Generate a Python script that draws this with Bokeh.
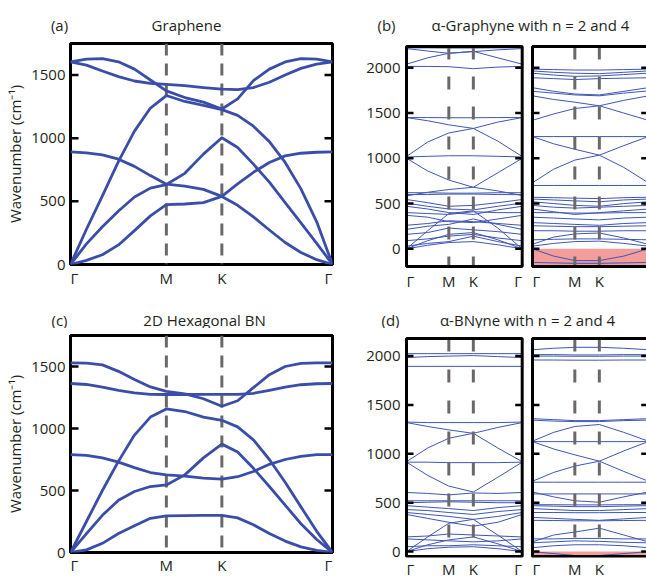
import math
from bokeh.plotting import figure
from bokeh.models import Range1d, FixedTicker, Label
from bokeh.layouts import row, column
from bokeh.embed import file_html
from bokeh.resources import INLINE

# ---------------- data ----------------
kpath = [0.0, 0.577, 0.911, 1.577]
kpath_labels = ["Γ", "M", "K", "Γ"]

k_dense = [0.0, 0.096, 0.192, 0.289, 0.385, 0.481, 0.577, 0.688, 0.800, 0.911,
           1.006, 1.101, 1.197, 1.292, 1.387, 1.482, 1.577]
k_sparse = [0.0, 0.289, 0.577, 0.911, 1.244, 1.577]

# (a) graphene, cm-1 on k_dense
graphene_za = [0, 33, 77, 155, 268, 385, 474, 479, 490, 539, 469, 377, 273, 174, 95, 38, 0]
graphene_ta = [0, 163, 299, 424, 534, 605, 633, 722, 874, 1004, 926, 795, 652, 490, 330, 168, 0]
graphene_zo = [892, 884, 868, 834, 777, 704, 636, 620, 595, 539, 638, 730, 808, 860, 881, 889, 892]
graphene_la = [0, 279, 544, 816, 1056, 1239, 1338, 1291, 1260, 1226, 1181, 1095, 973, 808, 599, 338, 0]
graphene_lo = [1605, 1626, 1631, 1605, 1547, 1461, 1375, 1322, 1286, 1231, 1312, 1456, 1547, 1604, 1631, 1626, 1605]
graphene_to = [1605, 1579, 1532, 1488, 1453, 1435, 1427, 1416, 1401, 1388, 1385, 1401, 1443, 1500, 1553, 1587, 1605]

# (c) hexagonal BN, cm-1 on k_dense
hbn_za = [0, 21, 74, 153, 216, 276, 295, 297, 299, 300, 279, 224, 153, 92, 45, 18, 0]
hbn_ta = [0, 153, 300, 421, 492, 532, 545, 626, 763, 874, 811, 679, 532, 382, 232, 105, 0]
hbn_zo = [789, 784, 763, 729, 684, 645, 626, 616, 600, 592, 611, 653, 711, 750, 776, 789, 789]
hbn_la = [0, 250, 500, 737, 947, 1092, 1158, 1137, 1092, 1066, 1013, 908, 750, 566, 368, 171, 0]
hbn_to = [1363, 1355, 1334, 1308, 1287, 1276, 1274, 1274, 1275, 1276, 1276, 1284, 1308, 1334, 1353, 1361, 1363]
hbn_lo = [1530, 1528, 1513, 1461, 1395, 1335, 1300, 1280, 1240, 1179, 1224, 1329, 1434, 1500, 1526, 1530, 1530]

# (b) alpha-graphyne n = 2 (left) and n = 4 (right), cm-1 on k_sparse
graphyne_n2 = [
    [2220, 2220, 2218, 2218, 2220, 2220],
    [2212, 2185, 2160, 2178, 2198, 2212],
    [2040, 2110, 2160, 2182, 2110, 2040],
    [2015, 2015, 2012, 1990, 2008, 2015],
    [1450, 1450, 1448, 1448, 1450, 1450],
    [1450, 1415, 1370, 1330, 1190, 1020],
    [1020, 1180, 1280, 1330, 1400, 1450],
    [1015, 1022, 1028, 1028, 1022, 1015],
    [1000, 860, 760, 680, 840, 1000],
    [585, 625, 655, 680, 640, 590],
    [620, 620, 615, 615, 620, 620],
    [600, 600, 605, 605, 600, 598],
    [545, 510, 470, 480, 510, 545],
    [505, 470, 440, 430, 470, 505],
    [470, 440, 400, 380, 430, 470],
    [400, 390, 380, 410, 400, 400],
    [370, 350, 300, 290, 330, 370],
    [260, 280, 310, 300, 280, 260],
    [215, 250, 270, 330, 270, 215],
    [160, 180, 230, 210, 190, 160],
    [90, 110, 140, 160, 120, 90],
    [30, 60, 80, 140, 80, 30],
    [0, 200, 390, 420, 230, 0],
    [0, 90, 160, 180, 100, 0],
    [0, 40, 70, 80, 45, 0],
]
graphyne_n4 = [
    [1985, 1980, 1975, 1975, 1980, 1985],
    [1965, 1950, 1940, 1935, 1950, 1965],
    [1940, 1920, 1905, 1910, 1925, 1940],
    [1890, 1880, 1870, 1880, 1885, 1890],
    [1780, 1740, 1710, 1700, 1740, 1780],
    [1740, 1720, 1700, 1690, 1720, 1745],
    [1690, 1650, 1620, 1580, 1640, 1690],
    [1420, 1490, 1550, 1580, 1500, 1420],
    [1240, 1240, 1240, 1240, 1240, 1240],
    [1240, 1160, 1100, 1035, 900, 730],
    [730, 880, 980, 1035, 1140, 1240],
    [700, 700, 700, 700, 700, 700],
    [570, 565, 560, 555, 565, 570],
    [550, 540, 530, 520, 540, 550],
    [520, 500, 480, 470, 500, 520],
    [480, 460, 450, 460, 470, 480],
    [440, 410, 380, 400, 420, 440],
    [400, 400, 395, 395, 400, 400],
    [350, 340, 330, 320, 340, 350],
    [290, 280, 270, 260, 280, 290],
    [255, 250, 245, 245, 250, 255],
    [200, 200, 195, 195, 200, 200],
    [50, 130, 165, 175, 120, 50],
    [100, 105, 110, 110, 105, 100],
    [30, 60, 80, 85, 60, 30],
    [0, -80, -130, -130, -80, 0],
    [-150, -155, -160, -160, -155, -150],
]

# (d) alpha-BNyne n = 2 (left) and n = 4 (right), cm-1 on k_sparse
bnyne_n2 = [
    [2025, 2025, 2025, 2025, 2025, 2025],
    [1985, 1995, 2000, 2005, 1995, 1985],
    [1895, 1895, 1895, 1895, 1895, 1895],
    [1325, 1320, 1320, 1320, 1320, 1325],
    [1320, 1280, 1245, 1210, 1060, 920],
    [920, 1060, 1160, 1210, 1270, 1320],
    [915, 915, 910, 910, 910, 915],
    [915, 780, 670, 610, 760, 915],
    [605, 595, 580, 600, 595, 605],
    [520, 520, 520, 520, 520, 520],
    [500, 505, 510, 505, 500, 500],
    [470, 455, 440, 420, 450, 470],
    [430, 420, 400, 380, 410, 430],
    [400, 380, 360, 330, 360, 400],
    [380, 340, 300, 260, 300, 380],
    [150, 160, 180, 170, 160, 150],
    [130, 120, 110, 100, 110, 130],
    [0, 150, 290, 330, 170, 0],
    [0, 70, 120, 150, 80, 0],
    [50, 60, 60, 70, 60, 50],
    [0, 30, 45, 50, 30, 0],
]
bnyne_n4 = [
    [2065, 2080, 2090, 2090, 2080, 2065],
    [2015, 2015, 2012, 2012, 2015, 2015],
    [2000, 2000, 1998, 1998, 2000, 2000],
    [1960, 1960, 1958, 1958, 1960, 1960],
    [1360, 1350, 1340, 1340, 1350, 1360],
    [1345, 1335, 1330, 1330, 1340, 1345],
    [1130, 1220, 1280, 1300, 1220, 1130],
    [1125, 1125, 1125, 1125, 1125, 1125],
    [1125, 1050, 990, 925, 820, 720],
    [720, 810, 875, 925, 1030, 1125],
    [710, 710, 710, 710, 710, 710],
    [610, 560, 520, 505, 560, 610],
    [590, 590, 590, 590, 590, 590],
    [480, 480, 478, 478, 480, 480],
    [470, 465, 460, 460, 465, 470],
    [440, 430, 420, 420, 430, 440],
    [400, 400, 398, 398, 400, 400],
    [350, 340, 330, 320, 335, 350],
    [320, 318, 315, 315, 318, 320],
    [100, 170, 200, 240, 170, 100],
    [130, 130, 135, 135, 130, 130],
    [90, 100, 110, 105, 95, 90],
    [40, 60, 70, 70, 60, 40],
    [0, -20, -40, -40, -20, 0],
    [-45, -45, -45, -45, -45, -45],
]

yticks_single = [0, 500, 1000, 1500]
yticks_pair = [0, 500, 1000, 1500, 2000]
ylim_single = (0, 1750)
ylim_graphyne = (-195, 2235)
ylim_bnyne = (-50, 2180)

panel_letters = ["(a)", "(b)", "(c)", "(d)"]
panel_titles = ["Graphene", "α-Graphyne with n = 2 and 4",
                "2D Hexagonal BN", "α-BNyne with n = 2 and 4"]

# ---------------- style ----------------
FONT = "Open Sans"
FS = "15px"
TXT = "#231f20"
BLUE = "#3a4ea9"
THIN = "#3f56b6"
GREY = "#6d6868"
PINK = "#f29c9c"
L = kpath[-1]
W = 646


def make_panel(canvas, box, frame, xlim, ylim):
    cx, cy, cw, ch = canvas
    bl, bt, bw, bh = box
    fl, ft, fw, fh = frame
    sx = (xlim[1] - xlim[0]) / bw
    sy = (ylim[1] - ylim[0]) / bh
    x0 = xlim[0] - (bl - fl) * sx
    y1 = ylim[1] + (bt - ft) * sy
    p = figure(frame_width=fw, frame_height=fh, min_border=0,
               min_border_left=fl - cx, min_border_top=ft - cy,
               min_border_right=cx + cw - fl - fw,
               min_border_bottom=cy + ch - ft - fh,
               x_range=Range1d(x0, x0 + fw * sx), y_range=Range1d(y1 - fh * sy, y1),
               output_backend="svg", toolbar_location=None, tools="")
    p.grid.visible = False
    p.background_fill_color = "white"
    p.border_fill_color = "white"
    return p, sx


def style_yaxis(p, ticks, label=None):
    ax = p.yaxis[0]
    ax.ticker = FixedTicker(ticks=ticks)
    ax.axis_line_color = None
    ax.major_tick_line_color = None
    ax.minor_tick_line_color = None
    ax.major_tick_in = 0
    ax.major_tick_out = 0
    ax.major_label_text_font = FONT
    ax.major_label_text_font_size = FS
    ax.major_label_text_color = TXT
    if label:
        ax.axis_label = label
        ax.axis_label_text_font = FONT
        ax.axis_label_text_font_size = FS
        ax.axis_label_text_font_style = "normal"
        ax.axis_label_text_color = TXT
        ax.axis_label_standoff = 3
        ax.major_label_standoff = 5
    else:
        ax.major_label_standoff = 3


def style_xaxis(p, ticks, labels, standoff):
    ax = p.xaxis[0]
    ax.ticker = FixedTicker(ticks=ticks)
    overrides = {}
    for t, lab in zip(ticks, labels):
        overrides[t] = lab
        overrides[repr(t)] = lab
    ax.major_label_overrides = overrides
    ax.axis_line_color = None
    ax.major_tick_line_color = None
    ax.minor_tick_line_color = None
    ax.major_tick_in = 0
    ax.major_tick_out = 0
    ax.major_label_standoff = standoff
    ax.major_label_text_font = FONT
    ax.major_label_text_font_size = FS
    ax.major_label_text_color = TXT


def single_panel(canvas, box, bands, label_standoff):
    p, sx = make_panel(canvas, box, box, (0, L), ylim_single)
    p.outline_line_color = "black"
    p.outline_line_width = 3
    style_yaxis(p, yticks_single, "Wavenumber (cm⁻¹)")
    shift = 4 * sx
    ticks = [kpath[0] + shift, kpath[1], kpath[2], kpath[3] - shift]
    style_xaxis(p, ticks, kpath_labels, label_standoff)
    p.segment(x0=kpath[1:3], y0=[ylim_single[1]] * 2, x1=kpath[1:3], y1=[ylim_single[0]] * 2,
              line_color=GREY, line_width=3, line_dash="12 8")
    p.multi_line(xs=[k_dense] * len(bands), ys=bands, line_color=BLUE, line_width=2.8,
                 line_join="round")
    tk = yticks_single[1:]
    p.ray(x=[0] * len(tk), y=tk, length=8, length_units="screen", angle=0,
          line_color="black", line_width=2.5)
    p.ray(x=[L] * len(tk), y=tk, length=8, length_units="screen", angle=math.pi,
          line_color="black", line_width=2.5)
    return p


def pair_panel(canvas, box, frame, ylim, left_bands, right_bands, dash, pink_top,
               label_standoff):
    p, sx = make_panel(canvas, box, frame, (0, L), ylim)
    p.outline_line_color = None
    style_yaxis(p, yticks_pair)
    off = L + 10.3 * sx
    shift = 4 * sx
    ticks = [kpath[0] + shift, kpath[1], kpath[2], kpath[3] - shift,
             off + kpath[0] + shift, off + kpath[1], off + kpath[2]]
    style_xaxis(p, ticks, kpath_labels + kpath_labels[:3], label_standoff)
    # imaginary-mode region of the right panel
    p.quad(left=[off], right=[off + L], bottom=[ylim[0]], top=[pink_top],
           fill_color=PINK, line_color=None)
    p.multi_line(xs=[k_sparse] * len(left_bands), ys=left_bands,
                 line_color=THIN, line_width=1)
    p.multi_line(xs=[[k + off for k in k_sparse]] * len(right_bands), ys=right_bands,
                 line_color=THIN, line_width=1)
    dx_lines = [kpath[1], kpath[2], off + kpath[1], off + kpath[2]]
    p.segment(x0=dx_lines, y0=[ylim[1]] * 4, x1=dx_lines, y1=[ylim[0]] * 4,
              line_color=GREY, line_width=3, line_dash=dash)
    n = len(yticks_pair)
    for xb, ang in [(0, 0), (L, math.pi), (off, 0), (off + L, math.pi)]:
        p.ray(x=[xb] * n, y=yticks_pair, length=7, length_units="screen", angle=ang,
              line_color="black", line_width=2.5)
    p.quad(left=[0, off], right=[L, off + L], bottom=[ylim[0]] * 2, top=[ylim[1]] * 2,
           fill_color=None, line_color="black", line_width=3)
    return p


def header(y0, h, items):
    p = figure(width=W, height=h, min_border=0, x_range=Range1d(0, W),
               y_range=Range1d(y0 + h, y0), x_axis_location=None, y_axis_location=None,
               output_backend="svg", toolbar_location=None, tools="")
    p.grid.visible = False
    p.outline_line_color = None
    for px, py, text in items:
        p.add_layout(Label(x=px, y=py, text=text, text_font=FONT, text_font_size=FS,
                           text_color=TXT, text_align="center", text_baseline="middle"))
    return p


head1 = header(0, 35, [(59, 24, panel_letters[0]), (186, 24, panel_titles[0]),
                       (386, 24, panel_letters[1]), (530, 24, panel_titles[1])])
head2 = header(288, 38, [(59, 317, panel_letters[2]), (204, 317, panel_titles[2]),
                         (390, 317, panel_letters[3]), (527, 317, panel_titles[3])])

graphene = [graphene_za, graphene_ta, graphene_zo, graphene_la, graphene_lo, graphene_to]
hbn = [hbn_za, hbn_ta, hbn_zo, hbn_la, hbn_to, hbn_lo]

pa = single_panel((0, 35, 338, 253), (70, 43, 262, 221), graphene, 3)
pb = pair_panel((338, 35, 308, 253), (406, 43, 115.7, 220), (403, 40, 243, 226),
                ylim_graphyne, graphyne_n2, graphyne_n4, "13 17", 0, 1)
pc = single_panel((0, 326, 338, 251), (70, 333, 262, 217), hbn, 2)
pd = pair_panel((338, 326, 308, 251), (406, 332, 115.7, 218), (403, 329, 243, 222),
                ylim_bnyne, bnyne_n2, bnyne_n4, "13 18", 0, 1)

layout = column(head1, row(pa, pb, spacing=0), head2, row(pc, pd, spacing=0), spacing=0)

open("out.html", "w").write(file_html(layout, INLINE))
